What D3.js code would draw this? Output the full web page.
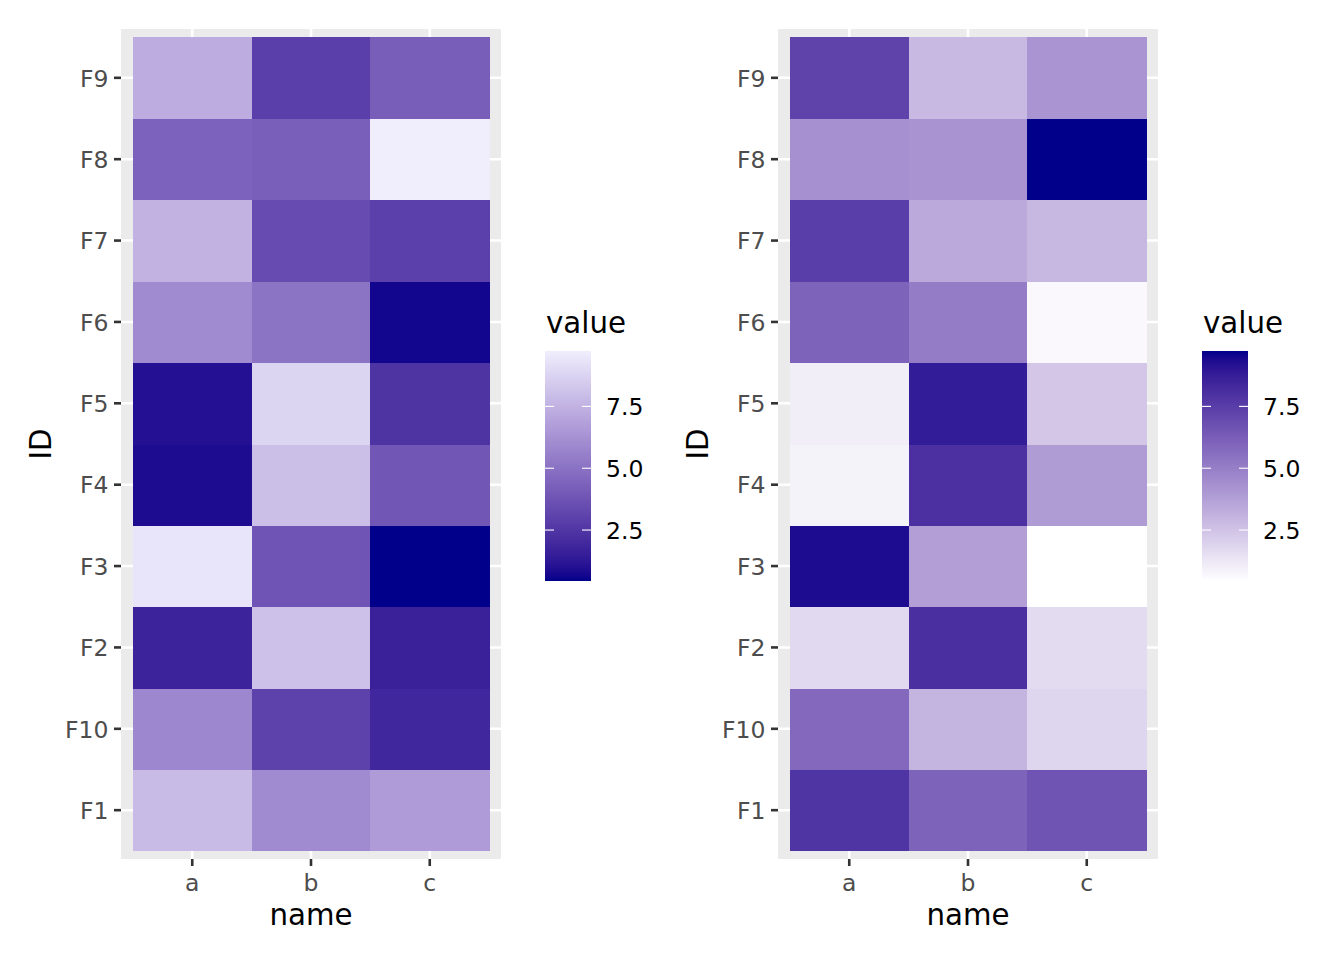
<!DOCTYPE html>
<html>
<head>
<meta charset="utf-8">
<script src="https://cdn.jsdelivr.net/npm/d3@7"></script>
<style>
  html, body { margin: 0; padding: 0; background: #ffffff; }
  svg { display: block; font-family: "DejaVu Sans", sans-serif; }
</style>
</head>
<body>
<svg id="chart" width="1344" height="960"></svg>
<script>
// ---- data ----
const categories = ["a", "b", "c"];
const ids = ["F1", "F10", "F2", "F3", "F4", "F5", "F6", "F7", "F8", "F9"];
const valuesA = [7.88, 5.83, 1.74, 9.37, 0.86, 1.00, 6.02, 7.51, 4.35, 7.28];
const valuesB = [6.02, 3.04, 8.07, 3.79, 8.02, 8.81, 5.09, 3.42, 4.21, 2.86];
const valuesC = [6.62, 1.88, 1.65, 0.44, 3.88, 2.39, 0.67, 2.90, 9.74, 4.16];
const legendBreaks = [2.5, 5.0, 7.5];
const legendLabels = ["2.5", "5.0", "7.5"];

const cells = [];
ids.forEach((id, i) => {
  cells.push({ name: "a", ID: id, value: valuesA[i] });
  cells.push({ name: "b", ID: id, value: valuesB[i] });
  cells.push({ name: "c", ID: id, value: valuesC[i] });
});

const svg = d3.select("#chart");
const allVals = cells.map(d => d.value);
const vmin = d3.min(allVals), vmax = d3.max(allVals);

function drawPlot(offsetX, lowCol, highCol, gradId) {
  const g = svg.append("g").attr("transform", `translate(${offsetX},0)`);
  const px0 = 121, px1 = 501, py0 = 29, py1 = 859;

  const x = d3.scaleBand().domain(categories).range([px0, px1]).paddingInner(0).paddingOuter(0.1);
  const y = d3.scaleBand().domain(ids.slice().reverse()).range([py0, py1]).paddingInner(0).paddingOuter(0.1);
  const color = d3.scaleLinear().domain([vmin, vmax]).range([lowCol, highCol]).interpolate(d3.interpolateLab);

  // panel background
  g.append("rect").attr("x", px0).attr("y", py0).attr("width", px1 - px0).attr("height", py1 - py0).attr("fill", "#EBEBEB");

  // grid lines
  g.append("g").selectAll("line").data(categories).join("line")
    .attr("x1", d => x(d) + x.bandwidth() / 2).attr("x2", d => x(d) + x.bandwidth() / 2)
    .attr("y1", py0).attr("y2", py1).attr("stroke", "#ffffff").attr("stroke-width", 2.6);
  g.append("g").selectAll("line").data(ids).join("line")
    .attr("y1", d => y(d) + y.bandwidth() / 2).attr("y2", d => y(d) + y.bandwidth() / 2)
    .attr("x1", px0).attr("x2", px1).attr("stroke", "#ffffff").attr("stroke-width", 2.6);

  // tiles
  g.append("g").selectAll("rect").data(cells).join("rect")
    .attr("x", d => x(d.name)).attr("y", d => y(d.ID))
    .attr("width", x.bandwidth() + 0.5).attr("height", y.bandwidth() + 0.5)
    .attr("fill", d => color(d.value)).attr("shape-rendering", "crispEdges");

  // axes
  const xAxis = g.append("g").attr("transform", `translate(0,${py1})`)
    .call(d3.axisBottom(x).tickSize(7).tickPadding(5));
  const yAxis = g.append("g").attr("transform", `translate(${px0},0)`)
    .call(d3.axisLeft(y).tickSize(7).tickPadding(5.5));
  [xAxis, yAxis].forEach(ax => {
    ax.select(".domain").remove();
    ax.selectAll(".tick line").attr("stroke", "#333333").attr("stroke-width", 2.6);
    ax.selectAll(".tick text").attr("fill", "#4D4D4D").attr("font-size", 23.5)
      .attr("font-family", "DejaVu Sans");
  });
  xAxis.selectAll(".tick text").attr("dy", "0.86em");
  yAxis.selectAll(".tick text").attr("dy", "0.37em");

  // axis titles
  g.append("text").attr("x", (px0 + px1) / 2).attr("y", 925).attr("text-anchor", "middle")
    .attr("font-size", 29.3).attr("fill", "#000").text("name");
  g.append("text").attr("transform", `translate(51,${(py0 + py1) / 2}) rotate(-90)`)
    .attr("text-anchor", "middle").attr("font-size", 29.3).attr("fill", "#000").text("ID");

  // legend
  const lx = 545, lw = 46, ly0 = 351, ly1 = 581;
  const defs = svg.append("defs");
  const grad = defs.append("linearGradient").attr("id", gradId)
    .attr("x1", 0).attr("y1", 1).attr("x2", 0).attr("y2", 0);
  d3.range(0, 51).forEach(i => {
    const t = i / 50;
    grad.append("stop").attr("offset", t).attr("stop-color", color(vmin + t * (vmax - vmin)));
  });
  const ls = d3.scaleLinear().domain([vmin, vmax]).range([ly1, ly0]);
  g.append("text").attr("x", lx + 1).attr("y", 333).attr("font-size", 29.3).attr("fill", "#000").text("value");
  g.append("rect").attr("x", lx).attr("y", ly0).attr("width", lw).attr("height", ly1 - ly0)
    .attr("fill", `url(#${gradId})`);
  const lt = g.append("g");
  legendBreaks.forEach((b, i) => {
    const yy = ls(b);
    lt.append("line").attr("x1", lx).attr("x2", lx + 9).attr("y1", yy).attr("y2", yy)
      .attr("stroke", "#ffffff").attr("stroke-width", 1.1);
    lt.append("line").attr("x1", lx + lw - 9).attr("x2", lx + lw).attr("y1", yy).attr("y2", yy)
      .attr("stroke", "#ffffff").attr("stroke-width", 1.1);
    lt.append("text").attr("x", lx + lw + 15).attr("y", yy).attr("dy", "0.36em")
      .attr("font-size", 23.5).attr("fill", "#000").text(legendLabels[i]);
  });
}

drawPlot(0, "#00008B", "#F0EEFD", "gradLeft");
drawPlot(657, "#FFFFFF", "#00008B", "gradRight");
</script>
</body>
</html>
